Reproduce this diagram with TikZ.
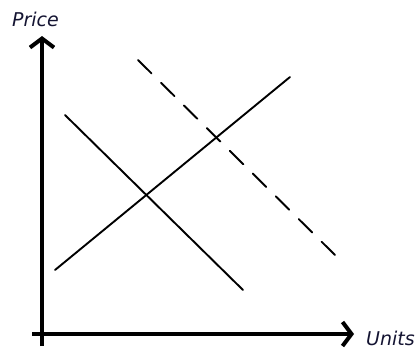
\documentclass[tikz,border=0pt]{standalone}
\usepackage{fontspec}
\setmainfont{DejaVu Sans}
\usetikzlibrary{arrows.meta}
\definecolor{labelc}{RGB}{20,20,50}
\tikzset{
  axis/.style={line width=4pt, -{Straight Barb[length=9pt,width=24pt,line width=4pt]}},
  curve/.style={line width=1.9pt, line cap=round},
  dashcurve/.style={curve, dash pattern=on 19pt off 13.3pt},
  lbl/.style={font=\fontsize{19}{19}\selectfont\itshape, text=labelc, inner sep=0pt}
}
\begin{document}
\begin{tikzpicture}[x=1pt,y=-1pt]
\useasboundingbox (0,0) rectangle (420,351);
\coordinate (yb) at (42,346);
\coordinate (yt) at (42,36);
\coordinate (xl) at (32,334);
\coordinate (xr) at (354,334);
\draw[axis] (yb) -- (yt);
\draw[axis] (xl) -- (xr);
\node[lbl, anchor=west] (price) at (12,19) {Price};
\node[lbl, anchor=west] (units) at (366,338) {Units};
\coordinate (s1) at (55,270);
\coordinate (s2) at (290,77);
\coordinate (d1) at (65,115);
\coordinate (d2) at (243,290);
\coordinate (e1) at (138,60);
\coordinate (e2) at (335,255);
\draw[curve] (s1) -- (s2);
\draw[curve] (d1) -- (d2);
\draw[dashcurve] (e1) -- (e2);
\end{tikzpicture}
\end{document}
